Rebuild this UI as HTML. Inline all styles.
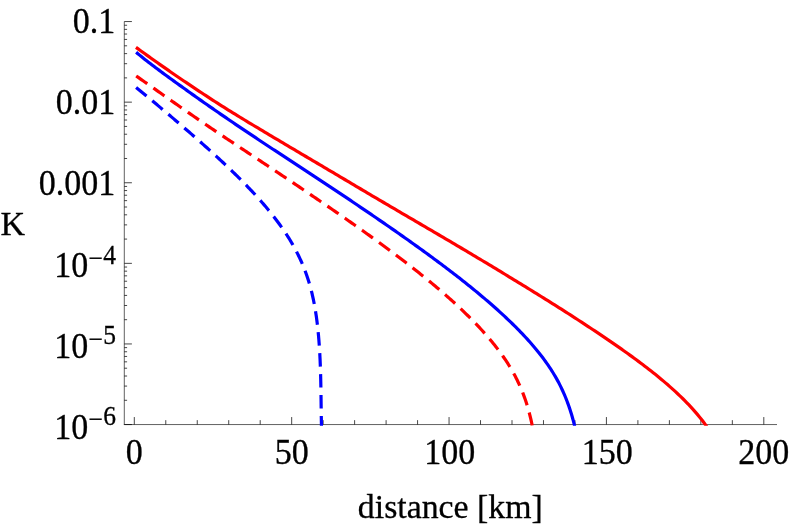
<!DOCTYPE html>
<html><head><meta charset="utf-8"><title>K vs distance</title>
<style>
html,body{margin:0;padding:0;background:#fff;}
body{width:789px;height:526px;overflow:hidden;font-family:"Liberation Serif",serif;}
svg{display:block;will-change:transform;}
text{font-family:"Liberation Serif",serif;fill:#000;stroke:#000;stroke-width:0.3px;}
</style></head><body>
<svg width="789" height="526" viewBox="0 0 789 526">
<rect width="789" height="526" fill="#fff"/>
<g stroke="#000" stroke-opacity="0.62" stroke-width="1" fill="none">
<path d="M124.3,21.55 V424.55"/>
<path d="M123.8,424.55 H777"/>
</g>
<g stroke="#000" stroke-opacity="0.72" stroke-width="1" fill="none">
<path d="M124.3,21.55 h7.6 M124.3,77.89 h2.8 M124.3,63.69 h2.8 M124.3,53.62 h2.8 M124.3,45.81 h2.8 M124.3,39.43 h2.8 M124.3,34.04 h2.8 M124.3,29.36 h2.8 M124.3,25.24 h2.8 M124.3,102.15 h7.6 M124.3,158.49 h2.8 M124.3,144.29 h2.8 M124.3,134.22 h2.8 M124.3,126.41 h2.8 M124.3,120.03 h2.8 M124.3,114.64 h2.8 M124.3,109.96 h2.8 M124.3,105.84 h2.8 M124.3,182.75 h7.6 M124.3,239.09 h2.8 M124.3,224.89 h2.8 M124.3,214.82 h2.8 M124.3,207.01 h2.8 M124.3,200.63 h2.8 M124.3,195.24 h2.8 M124.3,190.56 h2.8 M124.3,186.44 h2.8 M124.3,263.35 h7.6 M124.3,319.69 h2.8 M124.3,305.49 h2.8 M124.3,295.42 h2.8 M124.3,287.61 h2.8 M124.3,281.23 h2.8 M124.3,275.84 h2.8 M124.3,271.16 h2.8 M124.3,267.04 h2.8 M124.3,343.95 h7.6 M124.3,400.29 h2.8 M124.3,386.09 h2.8 M124.3,376.02 h2.8 M124.3,368.21 h2.8 M124.3,361.83 h2.8 M124.3,356.44 h2.8 M124.3,351.76 h2.8 M124.3,347.64 h2.8 M124.3,424.55 h7.6"/>
<path d="M134.30,424.55 v-7.5 M165.78,424.55 v-4.4 M197.25,424.55 v-4.4 M228.73,424.55 v-4.4 M260.20,424.55 v-4.4 M291.68,424.55 v-7.5 M323.15,424.55 v-4.4 M354.62,424.55 v-4.4 M386.10,424.55 v-4.4 M417.57,424.55 v-4.4 M449.05,424.55 v-7.5 M480.53,424.55 v-4.4 M512.00,424.55 v-4.4 M543.48,424.55 v-4.4 M574.95,424.55 v-4.4 M606.42,424.55 v-7.5 M637.90,424.55 v-4.4 M669.38,424.55 v-4.4 M700.85,424.55 v-4.4 M732.33,424.55 v-4.4 M763.80,424.55 v-7.5"/>
</g>
<defs><clipPath id="c"><rect x="120" y="0" width="669" height="425.8"/></clipPath></defs>
<g fill="none" stroke-width="3.2" stroke-linejoin="round" clip-path="url(#c)">
<path stroke="#ff0000" d="M135.96,47.35 L138.12,48.91 L140.27,50.47 L142.43,52.02 L144.59,53.57 L146.75,55.12 L148.91,56.66 L151.08,58.20 L153.25,59.74 L155.42,61.28 L157.59,62.81 L159.77,64.34 L161.94,65.86 L164.12,67.39 L166.30,68.91 L168.49,70.42 L170.67,71.94 L172.86,73.45 L175.05,74.95 L177.24,76.46 L179.44,77.96 L181.63,79.45 L183.83,80.95 L186.03,82.44 L188.24,83.92 L190.44,85.40 L192.65,86.88 L194.87,88.36 L197.08,89.83 L199.30,91.29 L201.52,92.76 L203.73,94.23 L205.95,95.69 L208.18,97.15 L210.40,98.60 L212.63,100.05 L214.87,101.49 L217.10,102.92 L219.34,104.35 L221.59,105.78 L223.84,107.19 L226.09,108.61 L228.34,110.02 L230.60,111.42 L232.86,112.82 L235.13,114.21 L237.39,115.60 L239.66,116.99 L241.93,118.37 L244.20,119.75 L246.47,121.13 L248.75,122.51 L251.03,123.88 L253.30,125.25 L255.58,126.62 L257.86,127.99 L260.14,129.36 L262.42,130.72 L264.70,132.09 L266.98,133.45 L269.27,134.81 L271.55,136.17 L273.84,137.53 L276.12,138.89 L278.41,140.24 L280.69,141.60 L282.98,142.96 L285.27,144.31 L287.55,145.67 L289.84,147.03 L292.12,148.38 L294.41,149.74 L296.70,151.10 L298.98,152.46 L301.27,153.81 L303.56,155.15 L305.85,156.50 L308.15,157.85 L310.44,159.20 L312.73,160.55 L315.02,161.90 L317.31,163.25 L319.60,164.60 L321.89,165.95 L324.17,167.30 L326.46,168.66 L328.75,170.01 L331.04,171.37 L333.32,172.72 L335.61,174.08 L337.90,175.43 L340.18,176.79 L342.47,178.15 L344.75,179.50 L347.04,180.86 L349.33,182.22 L351.61,183.57 L353.90,184.93 L356.18,186.29 L358.47,187.65 L360.76,189.00 L363.04,190.35 L365.33,191.71 L367.62,193.06 L369.91,194.41 L372.20,195.76 L374.49,197.11 L376.78,198.46 L379.07,199.81 L381.37,201.15 L383.66,202.50 L385.95,203.85 L388.24,205.19 L390.53,206.54 L392.83,207.89 L395.12,209.23 L397.41,210.57 L399.71,211.92 L402.00,213.26 L404.29,214.61 L406.59,215.95 L408.88,217.29 L411.18,218.63 L413.47,219.98 L415.77,221.32 L418.06,222.66 L420.35,224.00 L422.65,225.35 L424.94,226.69 L427.24,228.03 L429.53,229.38 L431.82,230.72 L434.12,232.06 L436.41,233.41 L438.70,234.75 L441.00,236.10 L443.29,237.45 L445.58,238.79 L447.87,240.14 L450.16,241.49 L452.45,242.84 L454.74,244.19 L457.03,245.55 L459.32,246.90 L461.60,248.25 L463.89,249.61 L466.18,250.97 L468.46,252.32 L470.75,253.68 L473.03,255.05 L475.31,256.41 L477.59,257.77 L479.87,259.14 L482.15,260.50 L484.43,261.87 L486.71,263.24 L488.99,264.61 L491.27,265.99 L493.54,267.36 L495.82,268.74 L498.09,270.11 L500.36,271.49 L502.64,272.87 L504.91,274.25 L507.18,275.63 L509.45,277.01 L511.72,278.39 L513.99,279.77 L516.26,281.16 L518.53,282.55 L520.80,283.94 L523.06,285.33 L525.33,286.72 L527.59,288.11 L529.85,289.51 L532.12,290.90 L534.38,292.30 L536.64,293.70 L538.90,295.10 L541.15,296.50 L543.41,297.91 L545.67,299.32 L547.92,300.72 L550.17,302.14 L552.43,303.55 L554.68,304.96 L556.93,306.38 L559.18,307.80 L561.42,309.22 L563.66,310.65 L565.90,312.08 L568.14,313.52 L570.38,314.95 L572.61,316.39 L574.85,317.83 L577.08,319.28 L579.31,320.72 L581.54,322.17 L583.76,323.62 L585.99,325.08 L588.21,326.54 L590.43,328.00 L592.65,329.47 L594.86,330.94 L597.08,332.41 L599.29,333.89 L601.49,335.37 L603.70,336.85 L605.90,338.34 L608.10,339.84 L610.29,341.34 L612.49,342.84 L614.67,344.35 L616.86,345.86 L619.04,347.38 L621.22,348.91 L623.39,350.44 L625.55,351.98 L627.72,353.53 L629.87,355.08 L632.03,356.64 L634.17,358.21 L636.31,359.79 L638.45,361.37 L640.58,362.96 L642.70,364.57 L644.81,366.18 L646.92,367.79 L649.02,369.42 L651.12,371.06 L653.20,372.71 L655.28,374.37 L657.34,376.04 L659.40,377.73 L661.45,379.42 L663.49,381.13 L665.52,382.85 L667.53,384.58 L669.53,386.33 L671.52,388.09 L673.50,389.87 L675.46,391.66 L677.41,393.47 L679.34,395.30 L681.25,397.15 L683.15,399.01 L685.02,400.89 L686.88,402.80 L688.72,404.72 L690.53,406.66 L692.34,408.61 L694.11,410.59 L695.86,412.59 L697.59,414.62 L699.28,416.66 L700.95,418.74 L702.58,420.83 L704.18,422.96 L705.73,425.11 L707.19,427.33"/>
<path stroke="#0000ff" d="M136.13,52.22 L137.86,53.69 L139.60,55.14 L141.35,56.58 L143.12,58.00 L144.89,59.42 L146.67,60.82 L148.46,62.21 L150.26,63.59 L152.06,64.97 L153.87,66.34 L155.68,67.70 L157.50,69.06 L159.32,70.41 L161.14,71.76 L162.96,73.10 L164.79,74.44 L166.62,75.78 L168.46,77.12 L170.29,78.45 L172.13,79.78 L173.96,81.11 L175.80,82.44 L177.64,83.77 L179.48,85.09 L181.32,86.42 L183.16,87.74 L185.01,89.06 L186.85,90.38 L188.69,91.70 L190.54,93.02 L192.39,94.33 L194.23,95.64 L196.08,96.96 L197.93,98.27 L199.79,99.58 L201.64,100.88 L203.49,102.19 L205.35,103.49 L207.21,104.79 L209.07,106.09 L210.93,107.38 L212.79,108.67 L214.66,109.97 L216.52,111.26 L218.39,112.54 L220.26,113.83 L222.12,115.11 L223.99,116.39 L225.87,117.67 L227.74,118.95 L229.61,120.23 L231.49,121.51 L233.36,122.78 L235.24,124.05 L237.12,125.32 L239.00,126.59 L240.88,127.86 L242.76,129.13 L244.64,130.39 L246.52,131.65 L248.41,132.92 L250.29,134.18 L252.18,135.44 L254.06,136.70 L255.95,137.95 L257.84,139.21 L259.73,140.46 L261.62,141.72 L263.51,142.97 L265.40,144.22 L267.29,145.47 L269.18,146.72 L271.07,147.97 L272.97,149.22 L274.86,150.46 L276.76,151.71 L278.65,152.95 L280.55,154.20 L282.44,155.44 L284.34,156.68 L286.24,157.93 L288.13,159.17 L290.03,160.41 L291.93,161.65 L293.83,162.89 L295.73,164.13 L297.62,165.37 L299.52,166.61 L301.42,167.85 L303.31,169.10 L305.21,170.35 L307.10,171.59 L308.99,172.84 L310.89,174.09 L312.78,175.34 L314.67,176.58 L316.57,177.83 L318.46,179.08 L320.35,180.33 L322.24,181.58 L324.14,182.83 L326.03,184.08 L327.92,185.34 L329.81,186.59 L331.70,187.84 L333.58,189.10 L335.47,190.35 L337.36,191.61 L339.24,192.87 L341.13,194.13 L343.01,195.39 L344.90,196.65 L346.78,197.92 L348.66,199.18 L350.54,200.45 L352.42,201.72 L354.30,202.99 L356.18,204.26 L358.05,205.53 L359.93,206.81 L361.81,208.08 L363.69,209.35 L365.57,210.62 L367.44,211.89 L369.32,213.16 L371.19,214.44 L373.07,215.72 L374.94,217.00 L376.81,218.28 L378.68,219.56 L380.55,220.84 L382.42,222.13 L384.28,223.42 L386.15,224.70 L388.01,226.00 L389.88,227.29 L391.74,228.58 L393.60,229.88 L395.46,231.18 L397.32,232.48 L399.17,233.78 L401.03,235.08 L402.88,236.39 L404.73,237.69 L406.59,239.00 L408.44,240.32 L410.28,241.63 L412.13,242.94 L413.98,244.26 L415.82,245.58 L417.66,246.90 L419.50,248.23 L421.34,249.56 L423.18,250.89 L425.01,252.22 L426.84,253.55 L428.68,254.89 L430.50,256.23 L432.33,257.57 L434.16,258.92 L435.98,260.27 L437.80,261.62 L439.62,262.97 L441.43,264.33 L443.25,265.69 L445.06,267.06 L446.87,268.42 L448.67,269.80 L450.48,271.17 L452.28,272.55 L454.07,273.93 L455.87,275.32 L457.66,276.71 L459.45,278.10 L461.23,279.50 L463.01,280.91 L464.79,282.32 L466.56,283.73 L468.33,285.15 L470.10,286.57 L471.86,288.00 L473.62,289.43 L475.37,290.87 L477.12,292.31 L478.86,293.76 L480.60,295.21 L482.34,296.67 L484.07,298.13 L485.80,299.60 L487.52,301.08 L489.24,302.56 L490.95,304.05 L492.65,305.54 L494.35,307.04 L496.05,308.55 L497.74,310.06 L499.42,311.58 L501.09,313.11 L502.76,314.65 L504.43,316.19 L506.08,317.74 L507.73,319.30 L509.37,320.86 L511.00,322.43 L512.63,324.01 L514.25,325.60 L515.86,327.20 L517.46,328.81 L519.05,330.43 L520.63,332.05 L522.19,333.69 L523.75,335.34 L525.29,337.00 L526.83,338.67 L528.35,340.35 L529.86,342.04 L531.36,343.74 L532.84,345.46 L534.31,347.18 L535.77,348.92 L537.21,350.67 L538.64,352.44 L540.04,354.21 L541.44,356.00 L542.81,357.81 L544.16,359.63 L545.50,361.46 L546.81,363.31 L548.11,365.17 L549.38,367.05 L550.63,368.94 L551.85,370.85 L553.05,372.77 L554.23,374.71 L555.38,376.66 L556.50,378.63 L557.60,380.62 L558.67,382.62 L559.71,384.63 L560.72,386.66 L561.71,388.70 L562.67,390.76 L563.60,392.82 L564.50,394.90 L565.38,397.00 L566.23,399.10 L567.05,401.21 L567.84,403.34 L568.61,405.47 L569.35,407.61 L570.06,409.76 L570.76,411.92 L571.42,414.09 L572.07,416.26 L572.69,418.45 L573.29,420.63 L573.87,422.82 L574.40,425.03 L574.80,427.26"/>
<path stroke="#ff0000" stroke-dasharray="13.5 7.53" d="M136.18,75.99 L137.89,77.18 L139.61,78.38 L141.32,79.58 L143.03,80.77 L144.74,81.97 L146.45,83.17 L148.16,84.37 L149.87,85.57 L151.58,86.77 L153.29,87.98 L155.00,89.18 L156.70,90.38 L158.41,91.58 L160.12,92.78 L161.83,93.99 L163.53,95.19 L165.24,96.39 L166.95,97.60 L168.66,98.80 L170.37,100.00 L172.08,101.20 L173.79,102.40 L175.50,103.60 L177.21,104.80 L178.92,106.00 L180.63,107.19 L182.34,108.39 L184.05,109.59 L185.77,110.78 L187.48,111.97 L189.20,113.16 L190.92,114.35 L192.63,115.54 L194.35,116.73 L196.07,117.92 L197.79,119.10 L199.52,120.28 L201.24,121.46 L202.96,122.64 L204.69,123.81 L206.42,124.99 L208.15,126.16 L209.88,127.33 L211.61,128.50 L213.34,129.67 L215.07,130.84 L216.80,132.00 L218.54,133.17 L220.27,134.33 L222.01,135.49 L223.75,136.65 L225.48,137.81 L227.22,138.97 L228.96,140.13 L230.70,141.29 L232.44,142.44 L234.18,143.60 L235.92,144.76 L237.66,145.91 L239.40,147.06 L241.14,148.22 L242.88,149.37 L244.62,150.53 L246.36,151.68 L248.11,152.83 L249.85,153.99 L251.59,155.14 L253.33,156.29 L255.07,157.44 L256.81,158.60 L258.55,159.75 L260.30,160.91 L262.04,162.06 L263.78,163.22 L265.52,164.37 L267.26,165.53 L268.99,166.69 L270.73,167.84 L272.47,169.00 L274.21,170.16 L275.95,171.32 L277.68,172.48 L279.42,173.64 L281.16,174.80 L282.89,175.96 L284.63,177.12 L286.36,178.29 L288.10,179.45 L289.83,180.62 L291.57,181.78 L293.30,182.95 L295.03,184.11 L296.77,185.28 L298.50,186.45 L300.23,187.62 L301.96,188.79 L303.69,189.96 L305.42,191.13 L307.15,192.30 L308.88,193.47 L310.61,194.64 L312.33,195.82 L314.06,196.99 L315.79,198.17 L317.51,199.34 L319.24,200.52 L320.96,201.70 L322.69,202.88 L324.41,204.06 L326.13,205.24 L327.86,206.42 L329.58,207.61 L331.30,208.79 L333.02,209.97 L334.74,211.16 L336.46,212.35 L338.18,213.54 L339.89,214.72 L341.61,215.92 L343.32,217.11 L345.04,218.30 L346.75,219.50 L348.46,220.69 L350.18,221.89 L351.89,223.09 L353.60,224.29 L355.30,225.49 L357.01,226.69 L358.72,227.90 L360.42,229.11 L362.13,230.31 L363.83,231.53 L365.53,232.74 L367.23,233.95 L368.93,235.17 L370.62,236.39 L372.32,237.61 L374.01,238.83 L375.70,240.05 L377.39,241.28 L379.08,242.51 L380.77,243.74 L382.46,244.98 L384.14,246.21 L385.82,247.45 L387.50,248.69 L389.18,249.94 L390.86,251.18 L392.53,252.43 L394.20,253.69 L395.87,254.94 L397.54,256.20 L399.20,257.46 L400.87,258.72 L402.53,259.99 L404.18,261.26 L405.84,262.53 L407.49,263.81 L409.14,265.09 L410.79,266.37 L412.44,267.66 L414.08,268.95 L415.72,270.24 L417.36,271.54 L418.99,272.84 L420.63,274.14 L422.25,275.45 L423.88,276.76 L425.50,278.08 L427.12,279.40 L428.74,280.72 L430.35,282.05 L431.96,283.38 L433.56,284.72 L435.16,286.06 L436.76,287.41 L438.36,288.76 L439.95,290.11 L441.53,291.47 L443.11,292.84 L444.69,294.21 L446.26,295.59 L447.82,296.97 L449.39,298.35 L450.94,299.75 L452.49,301.15 L454.04,302.55 L455.58,303.96 L457.11,305.38 L458.64,306.80 L460.17,308.23 L461.68,309.67 L463.19,311.11 L464.70,312.56 L466.19,314.02 L467.69,315.48 L469.17,316.95 L470.65,318.43 L472.12,319.91 L473.58,321.41 L475.03,322.91 L476.48,324.41 L477.91,325.93 L479.34,327.45 L480.76,328.99 L482.17,330.53 L483.57,332.08 L484.96,333.64 L486.34,335.21 L487.71,336.78 L489.07,338.37 L490.41,339.97 L491.75,341.58 L493.07,343.19 L494.38,344.82 L495.67,346.46 L496.95,348.11 L498.22,349.77 L499.47,351.44 L500.71,353.13 L501.93,354.82 L503.13,356.53 L504.32,358.24 L505.49,359.97 L506.65,361.72 L507.78,363.47 L508.89,365.24 L509.99,367.02 L511.06,368.81 L512.11,370.62 L513.14,372.43 L514.15,374.26 L515.13,376.11 L516.09,377.96 L517.03,379.83 L517.94,381.70 L518.83,383.59 L519.70,385.50 L520.54,387.41 L521.36,389.33 L522.15,391.26 L522.92,393.20 L523.66,395.16 L524.39,397.12 L525.08,399.08 L525.76,401.06 L526.41,403.05 L527.03,405.04 L527.64,407.04 L528.23,409.04 L528.79,411.06 L529.33,413.07 L529.85,415.09 L530.35,417.12 L530.84,419.15 L531.30,421.19 L531.75,423.23 L532.15,425.28 L532.47,427.34"/>
<path stroke="#0000ff" stroke-dasharray="13.5 7.495" d="M136.11,87.40 L137.34,88.41 L138.56,89.41 L139.79,90.41 L141.01,91.42 L142.24,92.43 L143.46,93.43 L144.68,94.44 L145.90,95.46 L147.12,96.47 L148.34,97.48 L149.55,98.49 L150.77,99.51 L151.99,100.52 L153.20,101.54 L154.42,102.55 L155.63,103.57 L156.85,104.59 L158.06,105.61 L159.28,106.63 L160.49,107.65 L161.70,108.67 L162.91,109.69 L164.12,110.71 L165.34,111.73 L166.55,112.75 L167.76,113.77 L168.97,114.80 L170.17,115.82 L171.38,116.85 L172.59,117.87 L173.80,118.90 L175.00,119.93 L176.21,120.96 L177.41,121.98 L178.62,123.01 L179.82,124.05 L181.02,125.08 L182.22,126.11 L183.43,127.14 L184.63,128.18 L185.82,129.21 L187.02,130.25 L188.22,131.29 L189.42,132.33 L190.61,133.37 L191.81,134.41 L193.00,135.45 L194.19,136.49 L195.38,137.54 L196.57,138.58 L197.76,139.63 L198.95,140.68 L200.14,141.73 L201.32,142.78 L202.51,143.83 L203.69,144.88 L204.87,145.94 L206.06,147.00 L207.24,148.05 L208.41,149.11 L209.59,150.17 L210.77,151.24 L211.94,152.30 L213.11,153.37 L214.28,154.43 L215.45,155.50 L216.62,156.57 L217.78,157.65 L218.95,158.72 L220.11,159.80 L221.27,160.88 L222.43,161.96 L223.58,163.04 L224.74,164.13 L225.89,165.22 L227.04,166.31 L228.19,167.40 L229.33,168.50 L230.48,169.59 L231.62,170.69 L232.75,171.80 L233.89,172.90 L235.02,174.01 L236.15,175.12 L237.28,176.23 L238.40,177.35 L239.53,178.47 L240.65,179.59 L241.76,180.71 L242.88,181.84 L243.99,182.97 L245.09,184.10 L246.20,185.24 L247.30,186.38 L248.39,187.52 L249.49,188.67 L250.58,189.82 L251.66,190.97 L252.75,192.13 L253.82,193.29 L254.90,194.46 L255.97,195.62 L257.03,196.80 L258.10,197.97 L259.15,199.15 L260.20,200.34 L261.25,201.53 L262.29,202.72 L263.33,203.92 L264.36,205.12 L265.39,206.33 L266.41,207.54 L267.43,208.75 L268.44,209.98 L269.44,211.20 L270.44,212.43 L271.43,213.67 L272.42,214.91 L273.40,216.15 L274.37,217.40 L275.33,218.66 L276.29,219.92 L277.24,221.19 L278.19,222.46 L279.12,223.74 L280.05,225.02 L280.97,226.31 L281.89,227.61 L282.79,228.91 L283.69,230.22 L284.57,231.53 L285.45,232.85 L286.32,234.17 L287.18,235.50 L288.03,236.84 L288.87,238.18 L289.70,239.53 L290.52,240.89 L291.33,242.25 L292.13,243.62 L292.92,244.99 L293.70,246.37 L294.46,247.76 L295.22,249.15 L295.96,250.55 L296.69,251.96 L297.41,253.37 L298.12,254.79 L298.82,256.21 L299.50,257.64 L300.17,259.07 L300.83,260.52 L301.47,261.96 L302.11,263.42 L302.73,264.87 L303.33,266.34 L303.92,267.81 L304.50,269.28 L305.07,270.76 L305.62,272.25 L306.16,273.74 L306.69,275.23 L307.20,276.73 L307.70,278.23 L308.19,279.74 L308.67,281.25 L309.13,282.77 L309.58,284.29 L310.01,285.81 L310.44,287.34 L310.85,288.87 L311.25,290.40 L311.63,291.94 L312.01,293.48 L312.37,295.02 L312.72,296.56 L313.06,298.11 L313.39,299.66 L313.71,301.21 L314.02,302.77 L314.32,304.32 L314.61,305.88 L314.89,307.44 L315.16,309.00 L315.42,310.56 L315.67,312.13 L315.91,313.69 L316.15,315.26 L316.37,316.83 L316.59,318.40 L316.80,319.97 L317.00,321.54 L317.20,323.11 L317.39,324.69 L317.57,326.26 L317.74,327.84 L317.91,329.41 L318.07,330.99 L318.22,332.56 L318.37,334.14 L318.51,335.72 L318.65,337.30 L318.78,338.88 L318.91,340.46 L319.03,342.04 L319.15,343.62 L319.26,345.20 L319.37,346.78 L319.47,348.36 L319.57,349.94 L319.66,351.52 L319.75,353.10 L319.83,354.69 L319.91,356.27 L319.99,357.85 L320.07,359.43 L320.14,361.02 L320.20,362.60 L320.27,364.18 L320.32,365.77 L320.38,367.35 L320.43,368.93 L320.48,370.52 L320.53,372.10 L320.58,373.68 L320.62,375.27 L320.66,376.85 L320.70,378.44 L320.73,380.02 L320.77,381.60 L320.80,383.19 L320.83,384.77 L320.86,386.36 L320.88,387.94 L320.91,389.52 L320.94,391.11 L320.96,392.69 L320.98,394.28 L321.01,395.86 L321.03,397.45 L321.05,399.03 L321.07,400.61 L321.09,402.20 L321.11,403.78 L321.13,405.37 L321.15,406.95 L321.18,408.54 L321.20,410.12 L321.22,411.70 L321.24,413.29 L321.26,414.87 L321.29,416.46 L321.31,418.04 L321.34,419.63 L321.36,421.21 L321.39,422.79 L321.42,424.38 L321.43,425.96 L321.44,427.55"/>
</g>
<text transform="translate(115.3,33.35) scale(1,1.045)" font-size="34" text-anchor="end">0.1</text>
<text transform="translate(115.3,113.95) scale(1,1.045)" font-size="34" text-anchor="end">0.01</text>
<text transform="translate(115.3,194.55) scale(1,1.045)" font-size="34" text-anchor="end">0.001</text>
<text transform="translate(115.9,277.45) scale(1,1.045)" font-size="34" text-anchor="end">10<tspan font-size="25.5" dx="0" dy="-9.9">−</tspan><tspan font-size="25.5" dx="0.6" dy="-3.2">4</tspan></text>
<text transform="translate(115.9,358.05) scale(1,1.045)" font-size="34" text-anchor="end">10<tspan font-size="25.5" dx="0" dy="-9.9">−</tspan><tspan font-size="25.5" dx="0.6" dy="-3.2">5</tspan></text>
<text transform="translate(115.9,438.65) scale(1,1.045)" font-size="34" text-anchor="end">10<tspan font-size="25.5" dx="0" dy="-9.9">−</tspan><tspan font-size="25.5" dx="0.6" dy="-3.2">6</tspan></text>
<text transform="translate(134.30,463.7) scale(1,1.045)" font-size="34" text-anchor="middle">0</text>
<text transform="translate(291.68,463.7) scale(1,1.045)" font-size="34" text-anchor="middle">50</text>
<text transform="translate(449.85,463.7) scale(1,1.045)" font-size="34" text-anchor="middle">100</text>
<text transform="translate(607.22,463.7) scale(1,1.045)" font-size="34" text-anchor="middle">150</text>
<text transform="translate(763.80,463.7) scale(1,1.045)" font-size="34" text-anchor="middle">200</text>
<text transform="translate(12.8,235.2) scale(1,1.02)" font-size="34" text-anchor="middle">K</text>
<text x="450.3" y="518" font-size="33.8" text-anchor="middle">distance [km]</text>
</svg>
</body></html>
